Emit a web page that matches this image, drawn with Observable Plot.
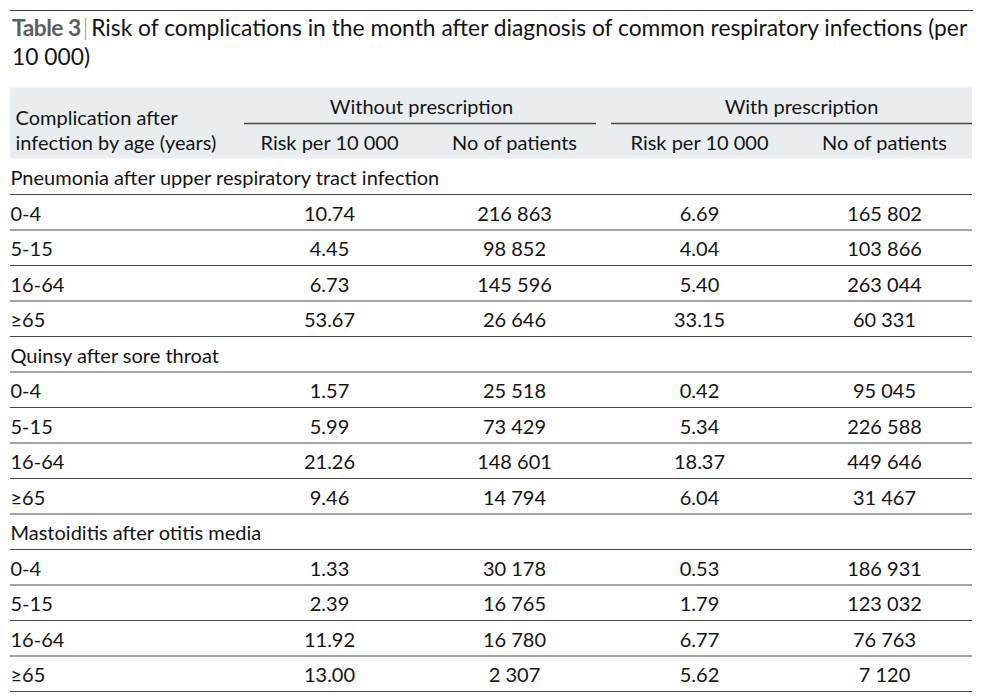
<!DOCTYPE html>
<html><head><meta charset="utf-8">
<script src="https://cdn.jsdelivr.net/npm/d3@7"></script>
<script src="https://cdn.jsdelivr.net/npm/@observablehq/plot@0.6"></script>
<style>
html,body{margin:0;padding:0;background:#fff;}
#title{margin:10px 0 0 10px;width:963px;height:70px;box-sizing:border-box;border-top:1px solid #444;
  font-family:Lato,"Noto Sans",sans-serif;font-size:22.8px;line-height:29px;color:#141414;padding:2px 0 0 2px;}
#title b{color:#5e5e5e;font-weight:700;letter-spacing:-0.5px;}
#title .sep{color:#8a8a8a;font-weight:300;margin:0 3px 0 2px;}
#chart svg{display:block;}
</style></head>
<body>
<div id="title"><b>Table 3</b><span class="sep">|</span>Risk of complications in the month after diagnosis of common respiratory infections (per<br>10 000)</div>
<div id="chart"></div>
<script>
const complications = ["Pneumonia after upper respiratory tract infection", "Quinsy after sore throat", "Mastoiditis after otitis media"];
const ageGroups = ["0-4", "5-15", "16-64", "≥65"];
const riskWithout = [10.74, 4.45, 6.73, 53.67, 1.57, 5.99, 21.26, 9.46, 1.33, 2.39, 11.92, 13.00];
const patientsWithout = [216863, 98852, 145596, 26646, 25518, 73429, 148601, 14794, 30178, 16765, 16780, 2307];
const riskWith = [6.69, 4.04, 5.40, 33.15, 0.42, 5.34, 18.37, 6.04, 0.53, 1.79, 6.77, 5.62];
const patientsWith = [165802, 103866, 263044, 60331, 95045, 226588, 449646, 31467, 186931, 123032, 76763, 7120];
const groupHeaders = ["Without prescription", "With prescription"];
const columnHeaders = ["Risk per 10 000", "No of patients", "Risk per 10 000", "No of patients"];
const stubHeader = ["Complication after", "infection by age (years)"];
const columns = ["riskWithout", "patientsWithout", "riskWith", "patientsWith"];

const fmtRisk = d3.format(".2f");
const fmtN = d => d3.format(",")(d).replace(/,/g, "\u00a0");

const bodyRows = [];
let r = 2;
complications.forEach((c, ci) => {
  bodyRows.push({row: r++, label: c, group: true});
  ageGroups.forEach((a, ai) => {
    const k = ci * 4 + ai;
    bodyRows.push({row: r++, label: a, group: false,
      values: [fmtRisk(riskWithout[k]), fmtN(patientsWithout[k]), fmtRisk(riskWith[k]), fmtN(patientsWith[k])]});
  });
});
const nRows = r;
const cells = bodyRows.filter(d => !d.group).flatMap(d => d.values.map((v, j) => ({row: d.row, col: columns[j], text: v})));
const headerCells = columnHeaders.map((t, j) => ({row: 1, col: columns[j], text: t}));

// layout (not data)
const spanLayout = [
  {from: 0, to: 1, insetLeft: -85, insetRight: -82, dx: 92},
  {from: 2, to: 3, insetLeft: -88, insetRight: -88, dx: 102}
];
const textDy = 2;
const lineColor = "#4a4a4a";

const marks = [
  Plot.barY([0], {y1: 0, y2: 2, fill: "#e9edf0"}),
  Plot.ruleY(bodyRows, {y: d => d.row + 1, stroke: lineColor, strokeWidth: 1.2}),
  ...spanLayout.map((s, i) => Plot.ruleY([groupHeaders[i]], {
    x1: () => columns[s.from], x2: () => columns[s.to], y: 1,
    insetLeft: s.insetLeft, insetRight: s.insetRight, stroke: lineColor, strokeWidth: 1.6})),
  ...spanLayout.map((s, i) => Plot.text([groupHeaders[i]], {
    x: () => columns[s.from], y: 0.5, text: d => d, dx: s.dx, dy: textDy})),
  Plot.text(headerCells, {x: "col", y: d => d.row + 0.5, text: "text", dy: textDy}),
  Plot.text([stubHeader[1]], {y: 1.5, text: d => d, frameAnchor: "left", textAnchor: "start", dx: 5, dy: textDy}),
  Plot.text([stubHeader[0]], {y: 1.5, text: d => d, frameAnchor: "left", textAnchor: "start", dx: 5, dy: textDy - 25}),
  Plot.text(bodyRows, {y: d => d.row + 0.5, text: "label", frameAnchor: "left", textAnchor: "start", dx: 0, dy: textDy}),
  Plot.text(cells, {x: "col", y: d => d.row + 0.5, text: "text", dy: textDy})
];

const chart = Plot.plot({
  width: 991,
  height: 617,
  marginLeft: 10,
  marginRight: 19,
  marginTop: 7.5,
  marginBottom: 6,
  style: {fontFamily: "Lato, 'Noto Sans', sans-serif", fontSize: "20px", color: "#141414", background: "white", overflow: "visible"},
  x: {type: "point", domain: columns, range: [328, 885], padding: 0, axis: null},
  y: {domain: [0, nRows], range: [7.5, 611], axis: null},
  marks
});
document.getElementById("chart").appendChild(chart);
</script>
</body></html>
